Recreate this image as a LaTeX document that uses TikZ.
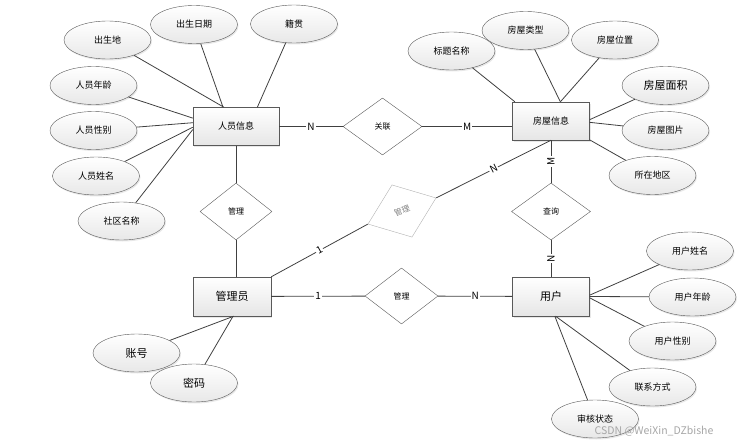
\documentclass[tikz,border=0pt]{standalone}
\usepackage{fontspec}
\setmainfont{Noto Sans CJK SC}
\usetikzlibrary{shapes.geometric,shadows}
\begin{document}
\begin{tikzpicture}[x=1pt,y=-1pt,
  attr/.style={ellipse,draw=black!65,top color=white,bottom color=black!9,minimum width=87pt,minimum height=38pt,inner sep=0pt,font=\fontsize{9}{11}\selectfont,drop shadow={opacity=0.18,shadow xshift=1pt,shadow yshift=-1.5pt}},
  ent/.style={rectangle,draw=black!65,top color=white,bottom color=black!10,minimum height=38pt,inner sep=0pt,font=\fontsize{9}{11}\selectfont,drop shadow={opacity=0.18,shadow xshift=1pt,shadow yshift=-1.5pt}},
  rel/.style={diamond,draw=black!65,fill=white,inner sep=0pt,minimum width=79pt,minimum height=57pt,font=\fontsize{8}{10}\selectfont},
  card/.style={fill=white,inner sep=1pt,font=\fontsize{10}{12}\selectfont},
  big/.style={font=\fontsize{11}{13}\selectfont},
  link/.style={draw=black!75,line width=0.8pt}]
  \useasboundingbox (0,0) rectangle (741,444);
  \node[ent,minimum width=86pt] (ry) at (236,126.5) {人员信息};
  \node[ent,minimum width=77pt] (fw) at (551,121) {房屋信息};
  \node[ent,minimum width=77pt,minimum height=39pt,big] (yh) at (551,296.5) {用户};
  \node[ent,minimum width=78pt,minimum height=39pt,big] (gly) at (232,296.5) {管理员};
  \node[rel,minimum width=72pt] (gl1) at (236,211.5) {管理};
  \node[rel] (gx) at (382.5,126.5) {关联};
  \node[rel] (cx) at (551,211.5) {查询};
  \node[rel,minimum width=73pt,minimum height=56pt] (gl2) at (401.5,296) {管理};
  \node[rel,draw=black!30,text=black!50,minimum width=73pt,minimum height=56pt,rotate=21] (gl3) at (402,211) {管理};
  \node[attr] (csd) at (107.5,40) {出生地};
  \node[attr] (csrq) at (194,24.5) {出生日期};
  \node[attr] (jg) at (294,24) {籍贯};
  \node[attr] (rynl) at (93.5,85.5) {人员年龄};
  \node[attr] (ryxb) at (93.5,130.5) {人员性别};
  \node[attr] (ryxm) at (96,176) {人员姓名};
  \node[attr] (sqmc) at (121.5,221) {社区名称};
  \node[attr] (btmc) at (451.5,51) {标题名称};
  \node[attr] (fwlx) at (525.5,30.5) {房屋类型};
  \node[attr] (fwwz) at (615,40) {房屋位置};
  \node[attr,big] (fwmj) at (665.5,85.5) {房屋面积};
  \node[attr] (fwtp) at (665.5,130.5) {房屋图片};
  \node[attr] (szdq) at (652.5,175.5) {所在地区};
  \node[attr] (yhxm) at (690,251) {用户姓名};
  \node[attr] (yhnl) at (692.5,297) {用户年龄};
  \node[attr] (yhxb) at (672.5,341) {用户性别};
  \node[attr] (lxfs) at (652.5,387) {联系方式};
  \node[attr] (shzt) at (595,419) {审核状态};
  \node[attr,big] (zh) at (136.5,353) {账号};
  \node[attr,big] (mm) at (194,383) {密码};
  \draw[link] (csd) -- (ry.122);
  \draw[link] (csrq) -- (ry.124);
  \draw[link] (jg) -- (ry.42);
  \draw[link] (rynl) -- (ry.169);
  \draw[link] (ryxb) -- (ry.175);
  \draw[link] (ryxm) -- (ry.181);
  \draw[link] (sqmc) -- (ry.184);
  \draw[link] (btmc) -- (fw.152);
  \draw[link] (fwlx) -- (fw.64);
  \draw[link] (fwwz) -- (fw.64);
  \draw[link] (fwmj) -- (fw.2);
  \draw[link] (fwtp) -- (fw.358);
  \draw[link] (szdq) -- (fw.334);
  \draw[link] (yhxm) -- (yh.2);
  \draw[link] (yhnl) -- (yh.east);
  \draw[link] (yhxb) -- (yh.358);
  \draw[link] (lxfs) -- (yh.283);
  \draw[link] (shzt) -- (yh.281);
  \draw[link] (zh) -- (gly.275);
  \draw[link] (mm) -- (gly.273);
  \draw[link] (ry) -- node[card] {N} (gx);
  \draw[link] (gx.east) -- node[card] {M} (gx.east -| fw.west);
  \draw[link] (ry.south) -- (gl1.north);
  \draw[link] (gl1.south) -- (gl1.south |- gly.north);
  \draw[link] (fw.south) -- node[card,rotate=90] {M} (cx.north);
  \draw[link] (cx.south) -- node[card,rotate=90] {N} (yh.north);
  \draw[link] (gly) -- node[card] {1} (gl2);
  \draw[link] (gl2) -- node[card] {N} (yh);
  \draw[link] (fw.south) -- node[card,sloped] {N} (gl3.east);
  \draw[link] (gly.north east) -- node[card,sloped] {1} (gl3.west);
  \node[text=black!35,font=\fontsize{10.5}{12}\selectfont] (wm) at (654,431) {CSDN @WeiXin\_DZbishe};
\end{tikzpicture}
\end{document}
